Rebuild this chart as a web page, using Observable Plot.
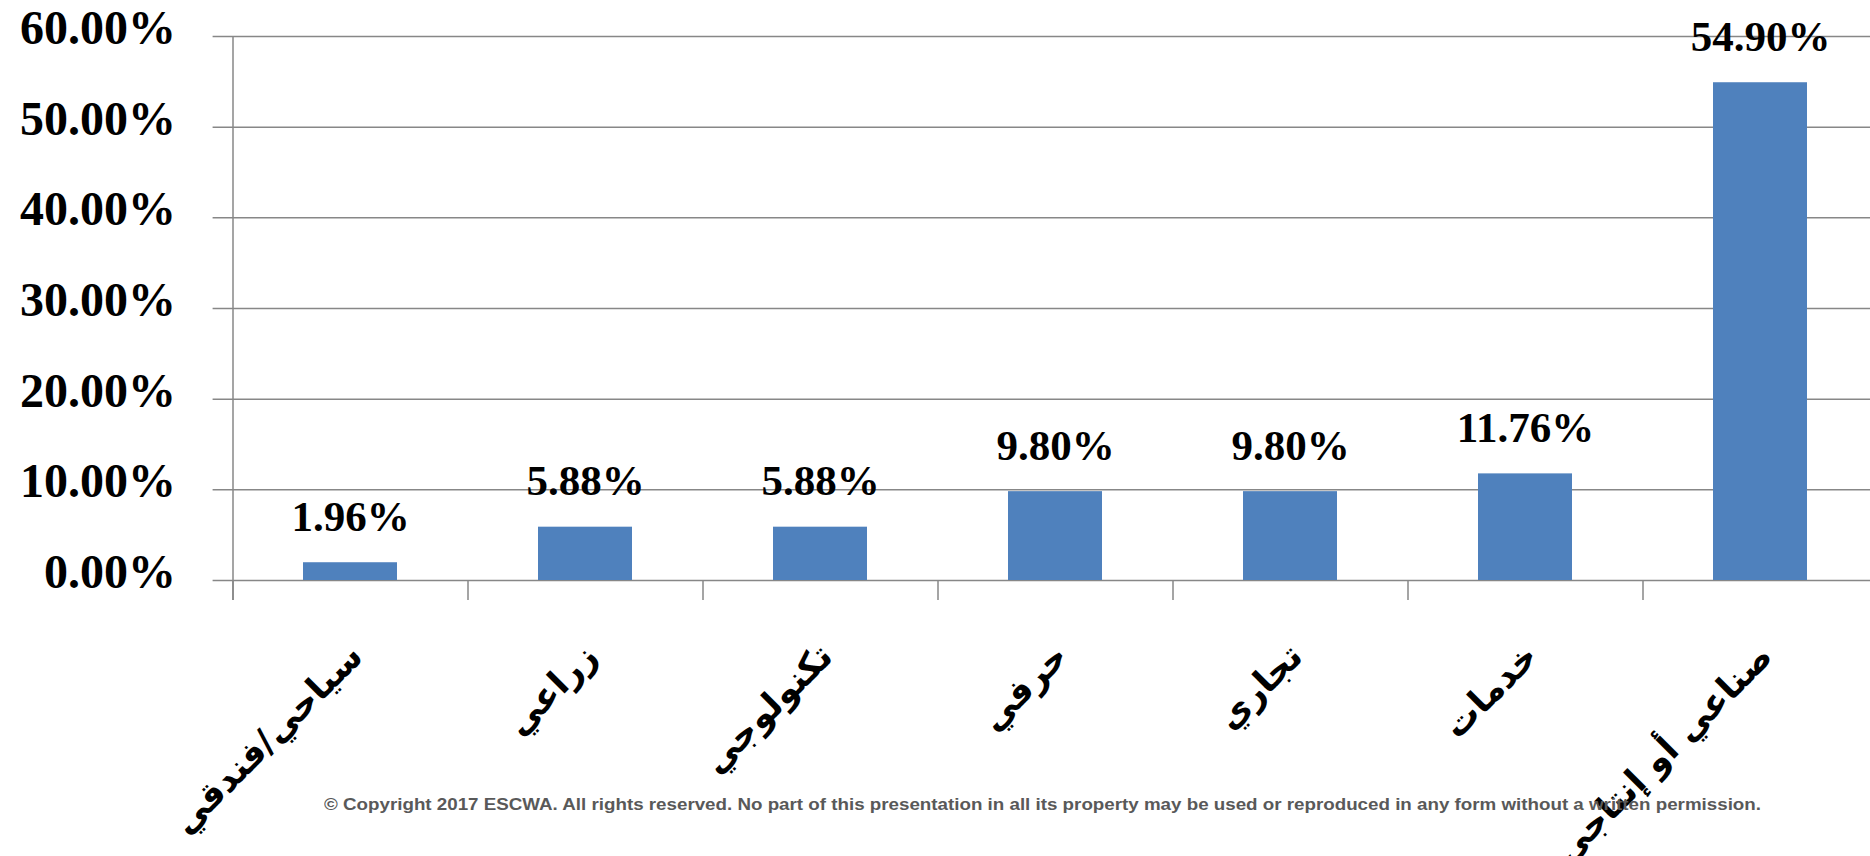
<!DOCTYPE html>
<html><head><meta charset="utf-8">
<script src="https://cdn.jsdelivr.net/npm/d3@7"></script>
<script src="https://cdn.jsdelivr.net/npm/@observablehq/plot@0.6"></script>
<style>
html,body{margin:0;padding:0;background:#fff;overflow:hidden;}
#wrap{position:relative;width:1870px;height:856px;overflow:hidden;background:#fff;}
#copy{position:absolute;left:324px;top:795px;font-family:"Liberation Sans Narrow","Liberation Sans",Arial,sans-serif;font-weight:bold;font-size:17px;line-height:20px;color:#595959;white-space:nowrap;transform-origin:0 0;}
</style></head><body>
<div id="wrap"><div id="chart"></div><div id="copy">© Copyright 2017 ESCWA. All rights reserved. No part of this presentation in all its property may be used or reproduced in any form without a written permission.</div></div>
<script>
const categories = ["سياحي/فندقي", "زراعي", "تكنولوجي", "حرفي", "تجاري", "خدمات", "صناعي أو إنتاجي"];
const values = [1.96, 5.88, 5.88, 9.80, 9.80, 11.76, 54.90];
const yTicks = [0, 10, 20, 30, 40, 50, 60];

const data = categories.map((c, i) => ({category: c, value: values[i]}));
const gray = "#878787";
const half = 117.5;
const serif = "'Liberation Serif','Times New Roman',serif";

const chart = Plot.plot({
  width: 1870, height: 856,
  marginLeft: 232.6, marginRight: -7.6, marginTop: 36, marginBottom: 276,
  style: {background: "white"},
  x: {domain: categories, paddingInner: 0.6, paddingOuter: 0.3},
  y: {domain: [0, 60]},
  marks: [
    Plot.ruleY(yTicks, {stroke: gray, strokeWidth: 1.5, insetLeft: -20}),
    Plot.ruleX([categories[0]], {dx: -half, stroke: gray, strokeWidth: 1.5, insetBottom: -20}),
    Plot.axisX({tickSize: 20, tickFormat: () => "", dx: -half, stroke: gray, strokeWidth: 1.5, label: null}),
    Plot.axisY({ticks: yTicks, tickSize: 0, tickPadding: 57, dy: -8, tickFormat: d => d.toFixed(2) + "%",
      fontSize: 48, fontWeight: "bold", fontFamily: serif, fill: "black", label: null}),
    Plot.barY(data, {x: "category", y: "value", fill: "#4F81BD"}),
    Plot.text(data, {x: "category", y: "value", text: d => d.value.toFixed(2) + "%", lineAnchor: "bottom", dy: -32,
      fontSize: 43, fontWeight: "bold", fontFamily: serif, fill: "black"}),
    Plot.text(categories, {x: d => d, frameAnchor: "bottom", rotate: -45, textAnchor: "end", dx: 14, dy: 78,
      fontSize: 35, fontWeight: "bold", fontFamily: "'DejaVu Sans',sans-serif", fill: "black"})
  ]
});
document.getElementById("chart").appendChild(chart);
const copy = document.getElementById("copy");
const w = copy.getBoundingClientRect().width;
copy.style.transform = `scaleX(${1437 / w})`;
</script>
</body></html>
